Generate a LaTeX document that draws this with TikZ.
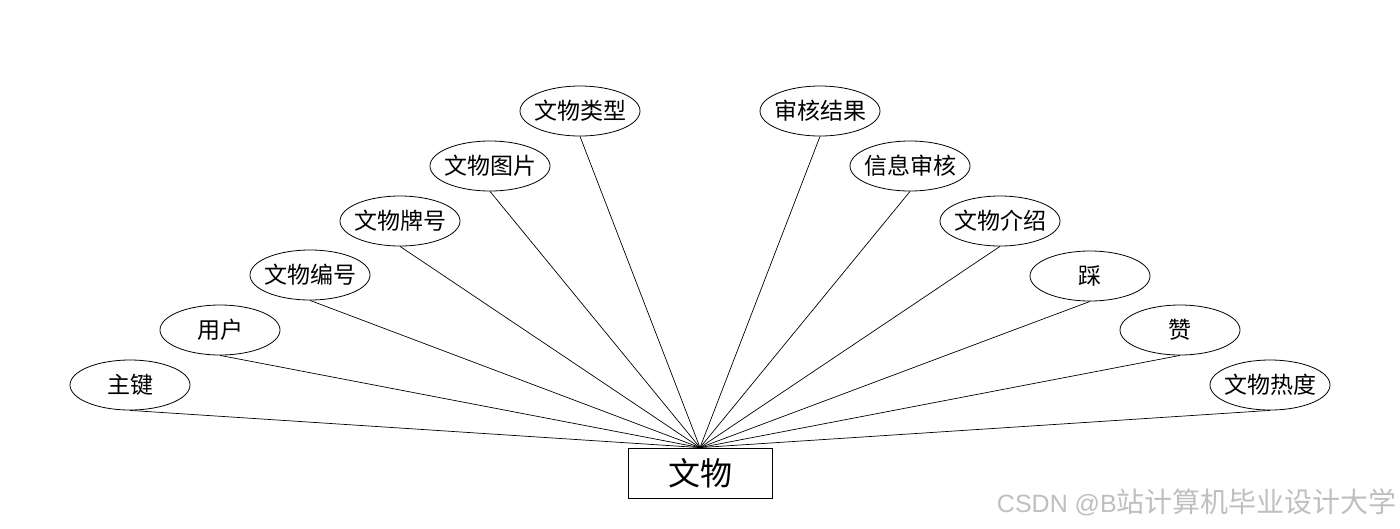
\documentclass[tikz,border=0pt]{standalone}
\usepackage{fontspec}
\newfontfamily\cjk{Noto Sans CJK SC}
\newfontfamily\wmlat{Liberation Sans}
\usetikzlibrary{shapes.geometric}
\begin{document}
\begin{tikzpicture}[x=1pt,y=-1pt,
  attr/.style={draw,ellipse,line width=0.8pt,minimum width=120pt,minimum height=50pt,inner xsep=-4pt,inner ysep=0pt,font=\cjk\fontsize{23}{26}\selectfont},
  ent/.style={draw,rectangle,line width=0.8pt,minimum width=144pt,minimum height=50pt,inner sep=0pt,font=\cjk\fontsize{32}{35}\selectfont},
  link/.style={line width=0.7pt}]
\useasboundingbox (0,0) rectangle (1400,528);
\node[ent] (e) at (700,473) {文物};
\node[attr] (a1) at (130,385) {主键};
\node[attr] (a2) at (220,330) {用户};
\node[attr] (a3) at (310,275) {文物编号};
\node[attr] (a4) at (400,221) {文物牌号};
\node[attr] (a5) at (490,166) {文物图片};
\node[attr] (a6) at (580,111) {文物类型};
\node[attr] (a7) at (820,111) {审核结果};
\node[attr] (a8) at (910,166) {信息审核};
\node[attr] (a9) at (1000,221) {文物介绍};
\node[attr] (a10) at (1090,276) {踩};
\node[attr] (a11) at (1180,330) {赞};
\node[attr] (a12) at (1270,385) {文物热度};
\foreach \i in {1,...,12} {\draw[link] (a\i.south) -- (e.north);}
\node[anchor=east,text=black!25,inner sep=0pt] (wm) at (1397,502) {{\wmlat\fontsize{25}{28}\selectfont CSDN @B}{\cjk\fontsize{28}{30}\selectfont 站计算机毕业设计大学}};
\end{tikzpicture}
\end{document}
